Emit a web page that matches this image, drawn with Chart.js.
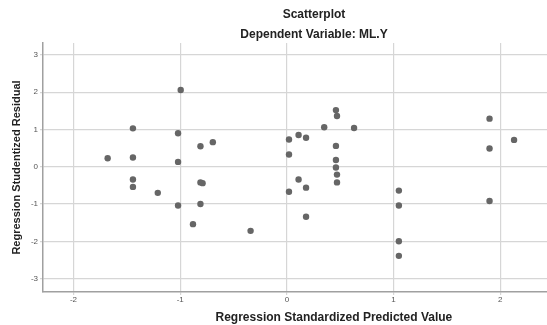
<!DOCTYPE html>
<html>
<head>
<meta charset="utf-8">
<script src="https://cdn.jsdelivr.net/npm/chart.js@4"></script>
<style>
  html, body { margin: 0; padding: 0; overflow: hidden; background: #fff; }
  #wrap { width: 628px; height: 325px; position: relative; }
</style>
</head>
<body>
<div id="wrap"><canvas id="residChart"></canvas></div>
<script>
// predicted (standardized) vs studentized residual
var predicted = [-0.995, -1.443, -1.02, -0.81, -0.694, -1.68, -1.443, -1.02, -1.443, -1.443,
    -1.21, -0.81, -0.79, -1.02, -0.81, -0.88, -0.34,
    0.02, 0.02, 0.11, 0.18, 0.35, 0.46, 0.47, 0.63, 0.46, 0.46, 0.46, 0.47, 0.47,
    0.11, 0.18, 0.02, 0.18, 1.05, 1.05, 1.05, 1.05, 1.90, 1.90, 1.90, 2.13];
var residual = [2.06, 1.03, 0.90, 0.55, 0.66, 0.23, 0.25, 0.13, -0.34, -0.54,
    -0.70, -0.42, -0.44, -1.04, -1.00, -1.54, -1.72,
    0.73, 0.33, 0.85, 0.78, 1.06, 1.52, 1.36, 1.04, 0.56, 0.18, -0.02, -0.21, -0.42,
    -0.34, -0.56, -0.67, -1.34, -0.64, -1.04, -2.00, -2.39, 1.29, 0.49, -0.92, 0.72];
var titleText = 'Scatterplot';
var subtitleText = 'Dependent Variable: ML.Y';
var xTitle = 'Regression Standardized Predicted Value';
var yTitle = 'Regression Studentized Residual';

var points = predicted.map(function (x, i) { return { x: x, y: residual[i] }; });

var ctx = document.getElementById('residChart').getContext('2d');
new Chart(ctx, {
    type: 'scatter',
    data: {
        datasets: [{
            data: points,
            backgroundColor: '#666666',
            borderWidth: 0,
            pointRadius: 3.2,
            pointHoverRadius: 3.2
        }]
    },
    options: {
        responsive: true,
        maintainAspectRatio: false,
        animation: false,
        layout: { padding: 0 },
        font: { family: '"Liberation Sans", Arial, sans-serif' },
        plugins: {
            legend: { display: false },
            tooltip: { enabled: false },
            title: {
                display: true,
                text: titleText,
                color: '#222',
                font: { size: 12, weight: 'bold', family: '"Liberation Sans", Arial, sans-serif' },
                padding: { top: 7, bottom: 6 }
            },
            subtitle: {
                display: true,
                text: subtitleText,
                color: '#222',
                font: { size: 12, weight: 'bold', family: '"Liberation Sans", Arial, sans-serif' },
                padding: { top: 0, bottom: 1.2 }
            }
        },
        scales: {
            x: {
                type: 'linear',
                min: -2.286,
                max: 3.168,
                border: { color: '#a0a0a0', width: 1.5 },
                grid: { color: '#d6d6d6', lineWidth: 1.2, tickLength: 3 },
                ticks: {
                    stepSize: 1,
                    includeBounds: false,
                    padding: 0,
                    color: '#555',
                    font: { size: 8, family: '"Liberation Sans", Arial, sans-serif' }
                },
                title: {
                    display: true,
                    text: xTitle,
                    color: '#222',
                    font: { size: 12, weight: 'bold', family: '"Liberation Sans", Arial, sans-serif' },
                    padding: { top: 0, bottom: 0 }
                },
                afterFit: function (scale) { scale.height = 33; }
            },
            y: {
                type: 'linear',
                min: -3.36,
                max: 3.32,
                border: { color: '#a0a0a0', width: 1.5 },
                grid: { color: '#d6d6d6', lineWidth: 1.2, tickLength: 3 },
                ticks: {
                    stepSize: 1,
                    includeBounds: false,
                    padding: 2,
                    color: '#555',
                    font: { size: 8, family: '"Liberation Sans", Arial, sans-serif' }
                },
                title: {
                    display: true,
                    text: yTitle,
                    color: '#222',
                    font: { size: 11, weight: 'bold', family: '"Liberation Sans", Arial, sans-serif' },
                    padding: { top: 10, bottom: 0 }
                },
                afterFit: function (scale) { scale.width = 43; }
            }
        }
    }
});
</script>
</body>
</html>
